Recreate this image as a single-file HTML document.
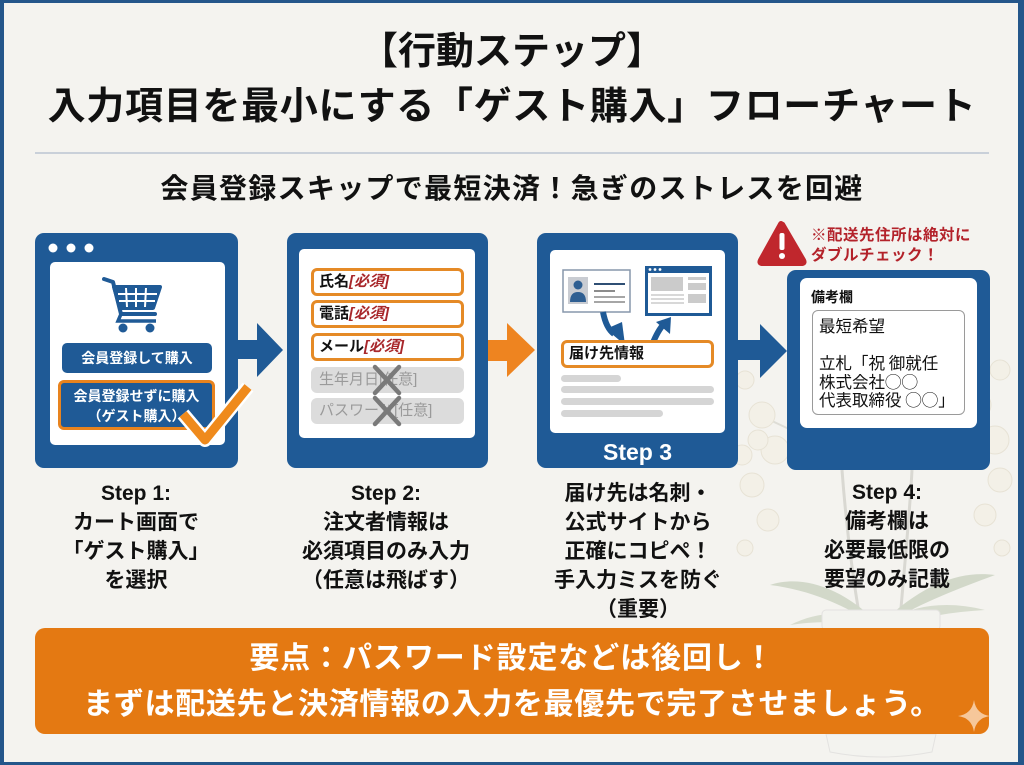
<!DOCTYPE html>
<html><head><meta charset="utf-8">
<style>
*{margin:0;padding:0;box-sizing:border-box}
html,body{width:1024px;height:765px;overflow:hidden;background:#f4f3ef}
body{font-family:"Liberation Sans","Noto Sans CJK JP",sans-serif;}
#c{position:relative;width:1024px;height:765px;background:#f4f3ef;overflow:hidden}
.a{position:absolute}
.t{position:absolute;left:0;width:1024px;text-align:center;font-weight:bold;color:#111;white-space:nowrap}
.panel{position:absolute;background:#1f5a96;border-radius:9px}
.inner{position:absolute;background:#fff;border-radius:5px}
.fld{position:absolute;left:311px;width:153px;height:28px;border:3px solid #e58a26;border-radius:6px;background:#fff;font-size:15px;font-weight:bold;line-height:22px;padding-left:5px;color:#111;white-space:nowrap}
.fld i{color:#a8272b;font-style:italic}
.gfld{position:absolute;left:311px;width:153px;height:26px;border-radius:6px;background:#dcdcdc;font-size:15px;line-height:26px;padding-left:8px;color:#9a9a9a;white-space:nowrap}
.lbl{position:absolute;width:240px;text-align:center;font-size:21px;line-height:29px;font-weight:bold;color:#111;white-space:nowrap}
.bar{position:absolute;height:7px;border-radius:4px;background:#d5d5d5}
.cjk{font-family:"Noto Sans CJK JP",sans-serif}
</style></head>
<body><div id="c">

<!-- orchid background -->
<svg class="a" style="left:0;top:0" width="1024" height="765">
 <g opacity="0.45">
  <path d="M860,620 C850,560 845,510 842,470" stroke="#b9b9b0" stroke-width="3" fill="none"/>
  <path d="M900,620 C905,560 910,510 912,470" stroke="#b9b9b0" stroke-width="3" fill="none"/>
  <path d="M842,470 C820,440 790,430 770,420" stroke="#c4c4b8" stroke-width="2" fill="none"/>
  <path d="M912,470 C940,440 970,420 990,400" stroke="#c4c4b8" stroke-width="2" fill="none"/>
  <path d="M880,625 C840,585 800,575 770,585 C810,590 845,605 880,628Z" fill="#a9b99d"/>
  <path d="M880,625 C920,585 960,570 995,575 C955,590 915,605 880,628Z" fill="#a9b99d"/>
  <path d="M880,625 C850,610 820,610 790,625 C825,620 850,622 880,630Z" fill="#b4c2a8"/>
  <path d="M880,625 C910,605 945,600 985,610 C950,612 915,618 880,630Z" fill="#b4c2a8"/>
  <rect x="822" y="610" width="118" height="20" rx="4" fill="#f3f3f0" stroke="#cfcfcf"/>
  <path d="M826,734 L830,752 Q880,762 932,752 L936,734Z" fill="#f3f3f0" stroke="#cfcfcf"/>
  <g fill="#f3eedf" stroke="#d8cfb6" stroke-width="1">
   <circle cx="762" cy="415" r="13"/><circle cx="775" cy="450" r="14"/><circle cx="752" cy="485" r="12"/>
   <circle cx="768" cy="520" r="11"/><circle cx="745" cy="548" r="8"/><circle cx="758" cy="440" r="10"/>
   <circle cx="978" cy="405" r="13"/><circle cx="995" cy="440" r="14"/><circle cx="1000" cy="480" r="12"/>
   <circle cx="985" cy="515" r="11"/><circle cx="1002" cy="548" r="8"/><circle cx="745" cy="380" r="9"/>
   <circle cx="1000" cy="370" r="10"/><circle cx="742" cy="455" r="10"/>
  </g>
 </g>
</svg>

<!-- frame -->
<div class="a" style="left:0;top:0;width:1024px;height:765px;border-style:solid;border-color:#24568a;border-width:3px 6px 3px 4px"></div>

<!-- titles -->
<div class="t" style="top:33px;font-size:38px;line-height:38px;">【行動ステップ】</div>
<div class="t" style="top:88px;font-size:38px;line-height:38px;letter-spacing:0.7px">入力項目を最小にする「ゲスト購入」フローチャート</div>
<div class="a" style="left:35px;top:152px;width:954px;height:2px;background:#c9d0d9"></div>
<div class="t" style="top:174px;font-size:28px;line-height:29px;letter-spacing:1.3px">会員登録スキップで最短決済！急ぎのストレスを回避</div>

<!-- Panel 1 -->
<div class="panel" style="left:35px;top:233px;width:203px;height:235px"></div>
<svg class="a" style="left:0;top:0" width="300" height="470">
 <circle cx="53" cy="248" r="4.5" fill="#fff"/><circle cx="71" cy="248" r="4.5" fill="#fff"/><circle cx="89" cy="248" r="4.5" fill="#fff"/>
</svg>
<div class="inner" style="left:50px;top:262px;width:175px;height:183px"></div>
<svg class="a" style="left:0;top:0" width="300" height="470">
 <g fill="none" stroke="#1f5a96" stroke-width="4" stroke-linejoin="round" stroke-linecap="round">
  <path d="M104,279 L113,282 L121,314 L155,314"/>
  <path d="M114,287 L160,287 L153,308 L120,308 Z" fill="#1f5a96"/>
 </g>
 <g stroke="#fff" stroke-width="2">
  <line x1="118" y1="294" x2="157" y2="294"/><line x1="119" y1="301" x2="155" y2="301"/>
  <line x1="126" y1="288" x2="127" y2="307"/><line x1="136" y1="288" x2="136" y2="307"/>
  <line x1="146" y1="288" x2="145" y2="307"/>
 </g>
 <path d="M121,314 L118,321 L156,321" fill="none" stroke="#1f5a96" stroke-width="3.5"/>
 <circle cx="123" cy="328" r="4.5" fill="#1f5a96"/><circle cx="150" cy="328" r="4.5" fill="#1f5a96"/>
</svg>
<div class="a" style="left:62px;top:343px;width:150px;height:30px;border-radius:5px;background:#1f5a96;color:#fff;font-weight:bold;font-size:14px;line-height:30px;text-align:center">会員登録して購入</div>
<div class="a" style="left:58px;top:380px;width:157px;height:50px;border-radius:6px;background:#1f5a96;border:3px solid #e8831e;color:#fff;font-weight:bold;font-size:14px;line-height:20px;text-align:center;padding-top:3px">会員登録せずに購入<br>（ゲスト購入）</div>
<svg class="a" style="left:0;top:0" width="300" height="470">
 <path d="M183,414 L205,440 L248,387" fill="none" stroke="#fff" stroke-width="14" stroke-linejoin="round"/>
 <path d="M183,414 L205,440 L248,387" fill="none" stroke="#ef8a1c" stroke-width="9" stroke-linejoin="round"/>
</svg>

<!-- Arrows -->
<svg class="a" style="left:0;top:0" width="1024" height="470">
 <rect x="237" y="340" width="22" height="19" fill="#1f5a96"/>
 <path d="M257,323 L283,350 L257,377Z" fill="#1f5a96"/>
 <rect x="487" y="340" width="22" height="21" fill="#ee8420"/>
 <path d="M507,323 L535,350 L507,377Z" fill="#ee8420"/>
 <rect x="737" y="340" width="25" height="20" fill="#1f5a96"/>
 <path d="M760,324 L787,351 L760,378Z" fill="#1f5a96"/>
</svg>

<!-- Panel 2 -->
<div class="panel" style="left:287px;top:233px;width:201px;height:235px"></div>
<div class="inner" style="left:299px;top:249px;width:176px;height:189px"></div>
<div class="fld" style="top:268px">氏名<i>[必須]</i></div>
<div class="fld" style="top:300px">電話<i>[必須]</i></div>
<div class="fld" style="top:333px">メール<i>[必須]</i></div>
<div class="gfld" style="top:367px">生年月日[任意]</div>
<div class="gfld" style="top:398px">パスワード[任意]</div>
<svg class="a" style="left:0;top:0" width="500" height="470">
 <g stroke="#7a7a7a" stroke-width="4.5" stroke-linecap="round">
  <line x1="375" y1="367" x2="399" y2="393"/><line x1="399" y1="367" x2="375" y2="393"/>
  <line x1="375" y1="398" x2="399" y2="424"/><line x1="399" y1="398" x2="375" y2="424"/>
 </g>
</svg>

<!-- Panel 3 -->
<div class="panel" style="left:537px;top:233px;width:201px;height:235px"></div>
<div class="inner" style="left:550px;top:250px;width:175px;height:183px"></div>
<svg class="a" style="left:0;top:0" width="760" height="470">
 <rect x="563" y="270" width="67" height="42" fill="#fff" stroke="#8797ac" stroke-width="1.5"/>
 <rect x="568" y="277" width="20" height="27" fill="#c9ccd2"/>
 <circle cx="578" cy="285" r="4.5" fill="#2f5f92"/>
 <path d="M570,302 Q570,292 578,292 Q586,292 586,302Z" fill="#2f5f92"/>
 <line x1="594" y1="284" x2="625" y2="284" stroke="#2f4f74" stroke-width="2"/>
 <line x1="594" y1="291" x2="615" y2="291" stroke="#666" stroke-width="1.5"/>
 <line x1="594" y1="297" x2="625" y2="297" stroke="#888" stroke-width="1.5"/>
 <line x1="594" y1="302" x2="625" y2="302" stroke="#888" stroke-width="1.5"/>
 <rect x="645" y="266" width="67" height="50" fill="#1f5a96"/>
 <rect x="648" y="273" width="61" height="40" fill="#fff"/>
 <circle cx="650" cy="269.5" r="1.4" fill="#fff"/><circle cx="655" cy="269.5" r="1.4" fill="#fff"/><circle cx="660" cy="269.5" r="1.4" fill="#fff"/>
 <rect x="651" y="277" width="32" height="14" fill="#cbcbcb"/>
 <rect x="688" y="277" width="18" height="3" fill="#cbcbcb"/>
 <rect x="688" y="283" width="18" height="7" fill="#cbcbcb"/>
 <rect x="688" y="294" width="18" height="9" fill="#cbcbcb"/>
 <line x1="651" y1="295" x2="684" y2="295" stroke="#ccc" stroke-width="1.5"/>
 <line x1="651" y1="299" x2="684" y2="299" stroke="#ccc" stroke-width="1.5"/>
 <line x1="651" y1="303" x2="684" y2="303" stroke="#ccc" stroke-width="1.5"/>
 <path d="M603,312 Q606,328 614,334" fill="none" stroke="#1f5a96" stroke-width="6"/>
 <path d="M606,329 L625,345 L622,322Z" fill="#1f5a96"/>
 <path d="M652,345 Q658,330 664,324" fill="none" stroke="#1f5a96" stroke-width="6"/>
 <path d="M656,322 L671,317 L670,334Z" fill="#1f5a96"/>
</svg>
<div class="fld" style="left:561px;top:340px;">届け先情報</div>
<div class="bar" style="left:561px;top:375px;width:60px"></div>
<div class="bar" style="left:561px;top:386px;width:153px"></div>
<div class="bar" style="left:561px;top:398px;width:153px"></div>
<div class="bar" style="left:561px;top:410px;width:102px"></div>
<div class="a" style="left:537px;top:438px;width:201px;text-align:center;color:#fff;font-weight:bold;font-size:23px;line-height:28px">Step 3</div>

<!-- Warning -->
<svg class="a" style="left:750px;top:215px" width="70" height="60">
 <path d="M32,9 Q31.5,8 33,9 L54,45 Q56,49 51,49 L13,49 Q8,49 10,45 L30,9 Q31,7 32,9Z" fill="#c0272d" stroke="#c0272d" stroke-width="4" stroke-linejoin="round"/>
 <rect x="29.5" y="18" width="5" height="17" rx="2" fill="#fff"/>
 <circle cx="32" cy="41" r="3" fill="#fff"/>
</svg>
<div class="a" style="left:811px;top:226px;color:#b3222a;font-weight:bold;font-size:15.5px;line-height:19.5px;white-space:nowrap;letter-spacing:0.5px">※配送先住所は絶対に<br>ダブルチェック！</div>

<!-- Panel 4 -->
<div class="panel" style="left:787px;top:270px;width:203px;height:200px"></div>
<div class="inner" style="left:800px;top:278px;width:177px;height:150px;border-radius:7px"></div>
<div class="a" style="left:811px;top:288px;font-size:14px;line-height:18px;color:#111;font-weight:bold">備考欄</div>
<div class="a" style="left:812px;top:310px;width:153px;height:105px;border:1.5px solid #9a9a9a;border-radius:6px;background:#fff"></div>
<div class="a cjk" style="left:819px;top:316px;font-size:16.5px;line-height:18.5px;color:#111;white-space:nowrap">最短希望<br><br>立札「祝 御就任<br>株式会社◯◯<br>代表取締役 ◯◯」</div>

<!-- Step labels -->
<div class="lbl" style="left:16px;top:479px">Step 1:<br>カート画面で<br>「ゲスト購入」<br>を選択</div>
<div class="lbl" style="left:266px;top:479px">Step 2:<br>注文者情報は<br>必須項目のみ入力<br>（任意は飛ばす）</div>
<div class="lbl" style="left:518px;top:479px">届け先は名刺・<br>公式サイトから<br>正確にコピペ！<br>手入力ミスを防ぐ<br>（重要）</div>
<div class="lbl" style="left:767px;top:478px">Step 4:<br>備考欄は<br>必要最低限の<br>要望のみ記載</div>

<!-- Banner -->
<div class="a" style="left:35px;top:628px;width:954px;height:106px;border-radius:10px;background:#e47912"></div>
<div class="t" style="top:643px;font-size:30px;line-height:32px;color:#fff;left:0;letter-spacing:0.9px">要点：パスワード設定などは後回し！</div>
<div class="t" style="top:689px;font-size:30px;line-height:32px;color:#fff;left:0;letter-spacing:0.7px">まずは配送先と決済情報の入力を最優先で完了させましょう。</div>
<svg class="a" style="left:958px;top:700px" width="34" height="34">
 <path d="M16,0 Q18,14 32,16 Q18,18 16,32 Q14,18 0,16 Q14,14 16,0Z" fill="#f6c79a"/>
</svg>

</div></body></html>
